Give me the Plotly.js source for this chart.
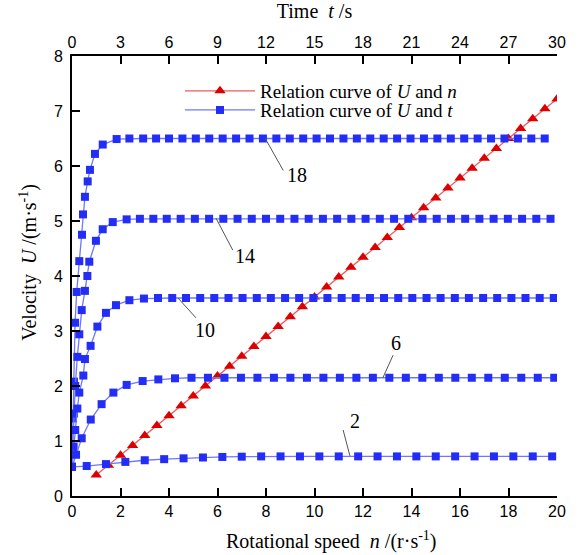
<!DOCTYPE html>
<html><head><meta charset="utf-8">
<script src="https://cdn.plot.ly/plotly-3.0.1.min.js"></script>
<style>html,body{margin:0;padding:0;background:#fff;}#chart{width:581px;height:555px;}</style>
</head><body><div id="chart"></div>
<script>
// Relation curve of U and n (bottom axis)
const nVals = [1,1.5,2,2.5,3,3.5,4,4.5,5,5.5,6,6.5,7,7.5,8,8.5,9,9.5,10,10.5,11,11.5,12,12.5,13,13.5,14,14.5,15,15.5,16,16.5,17,17.5,18,18.5,19,19.5,20];
const uN = [0.38,0.56,0.74,0.92,1.10,1.28,1.46,1.64,1.82,2.00,2.18,2.36,2.54,2.72,2.90,3.08,3.26,3.44,3.62,3.80,3.98,4.16,4.34,4.52,4.70,4.88,5.06,5.24,5.42,5.60,5.78,5.96,6.14,6.32,6.50,6.68,6.86,7.04,7.22];

// Relation curves of U and t (top axis), labelled by rotational speed
const t18 = [0,0.06,0.12,0.19,0.29,0.45,0.62,0.68,0.8,0.97,1.11,1.42,1.9,2.76,3.55,4.4,5.2,6.0,6.83,7.66,8.49,9.32,10.15,10.98,11.81,12.64,13.47,14.3,15.13,15.96,16.79,17.62,18.45,19.28,20.11,20.94,21.77,22.6,23.43,24.26,25.09,25.92,26.75,27.58,28.41,29.24];
const u18 = [0.53,1.41,2.08,3.15,3.71,4.27,4.75,5.12,5.44,5.72,5.93,6.22,6.39,6.49,6.5,6.5,6.5,6.5,6.5,6.5,6.5,6.5,6.5,6.5,6.5,6.5,6.5,6.5,6.5,6.5,6.5,6.5,6.5,6.5,6.5,6.5,6.5,6.5,6.5,6.5,6.5,6.5,6.5,6.5,6.5,6.5];
const t14 = [0,0.05,0.12,0.2,0.33,0.45,0.6,0.8,0.95,1.07,1.48,1.9,2.52,3.38,4.2,5.03,5.86,6.72,7.6,8.48,9.36,10.24,11.12,12.0,12.88,13.76,14.64,15.52,16.4,17.28,18.16,19.04,19.92,20.8,21.68,22.56,23.44,24.32,25.2,26.08,26.96,27.84,28.72,29.6];
const u14 = [0.53,0.87,1.5,2.0,2.53,2.94,3.38,3.73,4.0,4.26,4.64,4.85,4.98,5.03,5.04,5.04,5.04,5.04,5.04,5.04,5.04,5.04,5.04,5.04,5.04,5.04,5.04,5.04,5.04,5.04,5.04,5.04,5.04,5.04,5.04,5.04,5.04,5.04,5.04,5.04,5.04,5.04,5.04,5.04];
const t10 = [0,0.1,0.2,0.33,0.45,0.7,0.8,1.15,1.57,2.1,2.72,3.55,4.45,5.32,6.2,7.05,7.93,8.8,9.68,10.55,11.43,12.3,13.18,14.05,14.93,15.8,16.68,17.55,18.43,19.3,20.18,21.05,21.93,22.8,23.68,24.55,25.43,26.3,27.18,28.05,28.93,29.8];
const u10 = [0.53,0.9,1.2,1.59,1.88,2.19,2.49,2.73,3.08,3.33,3.47,3.56,3.59,3.6,3.6,3.6,3.6,3.6,3.6,3.6,3.6,3.6,3.6,3.6,3.6,3.6,3.6,3.6,3.6,3.6,3.6,3.6,3.6,3.6,3.6,3.6,3.6,3.6,3.6,3.6,3.6,3.6];
const t6 = [0,0.25,0.6,1.16,1.83,2.56,3.38,4.37,5.34,6.37,7.39,8.41,9.43,10.45,11.47,12.49,13.51,14.53,15.55,16.57,17.59,18.61,19.63,20.65,21.67,22.69,23.71,24.73,25.75,26.77,27.79,28.81,29.83];
const u6 = [0.53,0.75,1.05,1.39,1.67,1.88,2.02,2.09,2.12,2.14,2.15,2.15,2.15,2.15,2.15,2.15,2.15,2.15,2.15,2.15,2.15,2.15,2.15,2.15,2.15,2.15,2.15,2.15,2.15,2.15,2.15,2.15,2.15];
const t2 = [0,0.91,2.1,3.3,4.5,5.7,6.9,8.1,9.3,10.5,11.7,12.9,14.1,15.3,16.5,17.7,18.9,20.1,21.3,22.5,23.7,24.9,26.1,27.3,28.5,29.7];
const u2 = [0.53,0.545,0.58,0.62,0.65,0.67,0.685,0.70,0.71,0.715,0.72,0.72,0.72,0.72,0.72,0.72,0.72,0.72,0.72,0.72,0.72,0.72,0.72,0.72,0.72,0.72];

// curve labels (rotational speed) and their leader lines, in bottom-axis units (n, U)
const curveLabels = ['18','14','10','6','2'];
const labelTextN = [9.27,7.13,5.48,13.36,11.67];
const labelTextU = [5.84,4.37,3.02,2.78,1.36];
const leaderN0 = [7.97,5.94,4.37,12.82,11.46];
const leaderU0 = [6.50,5.05,3.60,2.15,0.73];
const leaderN1 = [8.71,6.63,5.11,13.24,11.18];
const leaderU1 = [5.92,4.47,3.24,2.56,1.20];

const SERIF = '"Liberation Serif","Times New Roman",serif';
const SANS = '"Liberation Sans",Arial,sans-serif';
const BLUE_M = 'rgb(35,45,245)', BLUE_L = 'rgb(110,120,250)';
const RED_M = 'rgb(220,0,0)', RED_L = 'rgb(235,90,90)';

function blue(t,u,show){
  return {x:t,y:u,xaxis:'x2',yaxis:'y',mode:'lines+markers',type:'scatter',
    name:'Relation curve of <i>U</i> and <i>t</i>',showlegend:!!show,legend:'legend2',
    line:{color:BLUE_L,width:1.3},marker:{symbol:'square',size:8,color:BLUE_M}};
}
const traces = [
  {x:nVals,y:uN,xaxis:'x',yaxis:'y',mode:'lines+markers',type:'scatter',
   name:'Relation curve of <i>U</i> and <i>n</i>',legend:'legend',
   line:{color:RED_L,width:1.3},marker:{symbol:'triangle-up',size:10,color:RED_M}},
  blue(t18,u18,true), blue(t14,u14), blue(t10,u10), blue(t6,u6), blue(t2,u2)
];

const annotations = curveLabels.map((s,i)=>({
  x:labelTextN[i],y:labelTextU[i],xref:'x',yref:'y',text:s,showarrow:false,
  xanchor:'center',yanchor:'middle',font:{family:SERIF,size:20,color:'#000'}
}));
const shapes = curveLabels.map((s,i)=>({
  type:'line',xref:'x',yref:'y',x0:leaderN0[i],y0:leaderU0[i],x1:leaderN1[i],y1:leaderU1[i],
  line:{color:'#555',width:1}
}));
// axis titles placed as in the reference
annotations.push({xref:'paper',yref:'paper',x:0.536,y:-0.10,xanchor:'center',yanchor:'middle',showarrow:false,
  text:'Rotational speed  <i>n</i> /(r·s<sup>-1</sup>)',font:{family:SERIF,size:20,color:'#000'}});
annotations.push({xref:'paper',yref:'paper',x:-0.089,y:0.532,xanchor:'center',yanchor:'middle',showarrow:false,textangle:-90,
  text:'Velocity  <i>U</i> /(m·s<sup>-1</sup>)',font:{family:SERIF,size:20,color:'#000'}});

const axisCommon = {showline:true,linewidth:2,linecolor:'#000',ticks:'inside',ticklen:8,
  tickwidth:2,tickcolor:'#000',showgrid:false,zeroline:false,
  tickfont:{family:SANS,size:16,color:'#000'}};

const legendBase = {xanchor:'left',yanchor:'middle',bgcolor:'rgba(0,0,0,0)',itemwidth:70,
  font:{family:SERIF,size:19,color:'#000'}};

const layout = {
  width:581,height:555,margin:{l:72,r:24,t:56,b:59},
  paper_bgcolor:'#fff',plot_bgcolor:'#fff',
  xaxis:Object.assign({},axisCommon,{range:[0,20],dtick:2,tick0:0}),
  xaxis2:Object.assign({},axisCommon,{range:[0,30],dtick:3,tick0:0,overlaying:'x',side:'top',anchor:'y',
    title:{text:'Time  <i>t</i> /s',font:{family:SERIF,size:20,color:'#000'},standoff:10}}),
  yaxis:Object.assign({},axisCommon,{range:[0,8],dtick:1,tick0:0,ticklabelstandoff:4}),
  showlegend:true,
  legend:Object.assign({x:0.2227,y:0.9205},legendBase),
  legend2:Object.assign({x:0.2227,y:0.877},legendBase),
  annotations:annotations,
  shapes:shapes
};
Plotly.newPlot('chart',traces,layout,{staticPlot:true,displayModeBar:false});
</script></body></html>
